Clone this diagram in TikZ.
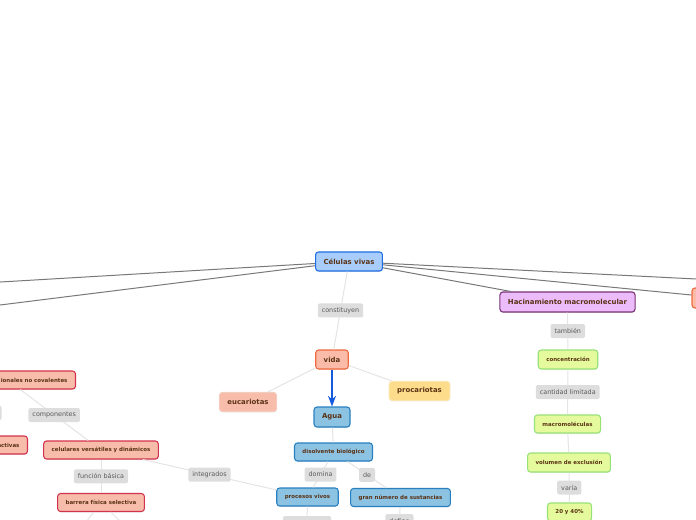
\documentclass[tikz,border=0pt]{standalone}
\usepackage{fontspec}
\setmainfont{DejaVu Sans}
\usepackage{tikz}
\definecolor{celblue}{RGB}{168,205,250}
\definecolor{celbluedraw}{RGB}{30,110,230}
\definecolor{aguablue}{RGB}{140,194,226}
\definecolor{aguabluedraw}{RGB}{40,128,192}
\definecolor{vidaorange}{RGB}{250,188,168}
\definecolor{vidaorangedraw}{RGB}{240,104,60}
\definecolor{eucsalmon}{RGB}{248,188,170}
\definecolor{eucsalmondraw}{RGB}{244,204,190}
\definecolor{procyellow}{RGB}{253,220,140}
\definecolor{procyellowdraw}{RGB}{250,230,175}
\definecolor{celured}{RGB}{210,50,76}
\definecolor{hacpurple}{RGB}{236,188,250}
\definecolor{hacpurpledraw}{RGB}{120,50,120}
\definecolor{macgreen}{RGB}{228,250,156}
\definecolor{macgreendraw}{RGB}{150,225,120}
\definecolor{nodetext}{RGB}{90,50,20}
\definecolor{lblgray}{RGB}{221,221,221}
\definecolor{lbltext}{RGB}{90,90,90}
\definecolor{lightline}{RGB}{228,228,228}
\definecolor{darkline}{RGB}{120,120,120}
\definecolor{arrowblue}{RGB}{20,90,220}
\usetikzlibrary{arrows.meta, shadows}

\begin{document}
\begin{tikzpicture}[
  x=0.75pt, y=-0.75pt,
  >=Stealth,
  box/.style={rounded corners=2.2pt, text=nodetext, line width=0.8pt, inner xsep=6pt, inner ysep=0pt,
    drop shadow={shadow xshift=0.3pt, shadow yshift=-0.6pt, opacity=0.18}},
  bignode/.style={box, font=\fontsize{5.2}{6}\selectfont\bfseries, minimum height=14.25pt},
  smallnode/.style={box, font=\fontsize{4.1}{5}\selectfont\bfseries, minimum height=13.5pt},
  linkword/.style={rounded corners=1.5pt, fill=lblgray, text=lbltext, font=\fontsize{4.8}{5.5}\selectfont,
    inner xsep=3pt, inner ysep=0pt, minimum height=10.5pt},
  main link/.style={draw=darkline, line width=0.75pt},
  soft link/.style={draw=lightline, line width=0.75pt},
]
  \useasboundingbox (0,0) rectangle (696,520);
  \clip (0,0) rectangle (696,520);

  % centre and branches
  \node[bignode, fill=celblue, draw=celbluedraw] (cv) at (349,261.5) {Células vivas};
  \node[bignode, fill=vidaorange, draw=vidaorangedraw] (vida) at (332,359.5) {vida};
  \node[bignode, fill=eucsalmon, draw=eucsalmondraw] (euc) at (248,402) {eucariotas};
  \node[bignode, fill=procyellow, draw=procyellowdraw] (proc) at (419.5,391) {procariotas};
  \node[bignode, fill=aguablue, draw=aguabluedraw, minimum height=15pt] (agua) at (332,417) {Agua};
  \node[smallnode, fill=aguablue, draw=aguabluedraw] (disol) at (333.5,452) {disolvente biológico};
  \node[smallnode, fill=aguablue, draw=aguabluedraw] (procv) at (307.5,497) {procesos vivos};
  \node[smallnode, fill=aguablue, draw=aguabluedraw] (gran) at (400.5,497.5) {gran número de sustancias};

  % left side, cut by the page edge
  \node[smallnode, fill=eucsalmon, draw=celured, text width=90pt, align=right, anchor=east]
    (ion) at (76,380) {ionales no covalentes};
  \node[smallnode, fill=eucsalmon, draw=celured, text width=40pt, align=right, anchor=east]
    (act) at (28,445) {activas};
  \node[linkword, minimum width=20pt, anchor=east] (cutlbl) at (2,413) {};
  \node[smallnode, fill=eucsalmon, draw=celured] (celu) at (101,450) {celulares versátiles y dinámicos};
  \node[smallnode, fill=eucsalmon, draw=celured] (barr) at (101,502.5) {barrera física selectiva};

  % right column
  \node[bignode, fill=hacpurple, draw=hacpurpledraw, minimum height=15pt] (hac) at (567.5,302) {Hacinamiento macromolecular};
  \node[smallnode, fill=macgreen, draw=macgreendraw, minimum height=14.25pt] (conc) at (568,359.5) {concentración};
  \node[smallnode, fill=macgreen, draw=macgreendraw] (macro) at (567.5,424) {macromoléculas};
  \node[smallnode, fill=macgreen, draw=macgreendraw, minimum height=14.25pt] (vol) at (569,462.5) {volumen de exclusión};
  \node[smallnode, fill=macgreen, draw=macgreendraw] (vp) at (569.5,512) {20 y 40\%};
  \node[bignode, fill=vidaorange, draw=vidaorangedraw, minimum width=45pt, minimum height=15pt] (orr) at (722,298) {};

  % words below the page edge
  \node[linkword, minimum width=36pt] (procvlbl) at (307,523) {};
  \node[linkword] (define) at (399.5,521) {define};
  \coordinate (barrl) at (80,530);
  \coordinate (barrr) at (129,530);
  \coordinate (offl1) at (-20,283.2);
  \coordinate (offl2) at (-20,307.5);
  \coordinate (offr) at (720,280.2);

  \path[main link] (cv) -- (offl1);
  \path[main link] (cv) -- (offl2);
  \path[main link] (cv) -- (offr);
  \path[main link] (cv) -- (hac);
  \path[main link] (cv) -- (orr);

  \path[soft link] (cv) -- node[linkword] (constit) {constituyen} (vida);
  \path[soft link] (vida) -- (euc);
  \path[soft link] (vida) -- (proc);
  \draw[->, arrowblue, line width=1.1pt] (vida) -- (agua);
  \path[soft link] (agua) -- (disol);
  \path[soft link] (disol) -- node[linkword] (domina) {domina} (procv);
  \path[soft link] (disol) -- node[linkword] (de) {de} (gran);
  \path[soft link] (procv) -- (procvlbl);
  \path[soft link] (gran) -- (define);

  \path[soft link] (ion) -- node[linkword] (comp) {componentes} (celu);
  \path[soft link] (celu) -- node[linkword] (integ) {integrados} (procv);
  \path[soft link] (celu) -- node[linkword] (funcb) {función básica} (barr);
  \path[soft link] (barr) -- (barrl);
  \path[soft link] (barr) -- (barrr);

  \path[soft link] (hac) -- node[linkword] (tamb) {también} (conc);
  \path[soft link] (conc) -- node[linkword] (cantl) {cantidad limitada} (macro);
  \path[soft link] (macro) -- (vol);
  \path[soft link] (vol) -- node[linkword] (varia) {varía} (vp);
\end{tikzpicture}
\end{document}
